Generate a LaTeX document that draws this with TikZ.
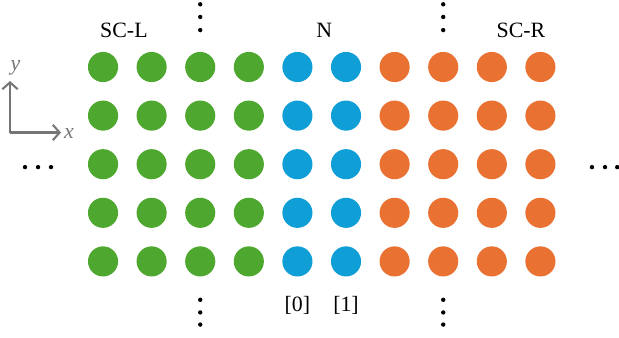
\documentclass[tikz,border=0pt]{standalone}
\usepackage{fontspec}
\setmainfont{Liberation Serif}
\usepackage{tikz}
\usetikzlibrary{arrows.meta}
\definecolor{scgreen}{HTML}{4EA72E}
\definecolor{nblue}{HTML}{0F9ED5}
\definecolor{scorange}{HTML}{E97132}
\definecolor{axisgray}{HTML}{767676}

\begin{document}
\begin{tikzpicture}[site/.style={circle, inner sep=0pt, minimum size=0.62cm},
  lbl/.style={anchor=base, inner sep=0pt},
  axis/.style={axisgray, line width=1.2pt, -{Straight Barb[length=4pt,width=9pt]}},
  font=\fontsize{12.8}{15}\selectfont]
\useasboundingbox (-2.12,-5.556) rectangle (10.617,1.379);
% sites of the chain
\foreach \a/\b/\c in {0/3/scgreen, 4/5/nblue, 6/9/scorange}
  \foreach \i in {\a,...,\b}
    \foreach \j in {0,...,4}
      \node[site, fill=\c] (s\i\j) at (\i,-\j) {};
\node[lbl] (scl) at (0.43,0.6) {SC-L};
\node[lbl] (n) at (4.55,0.6) {N};
\node[lbl] (scr) at (8.6,0.6) {SC-R};
\node[lbl] (i0) at (4,-5.03) {[0]};
\node[lbl] (i1) at (5,-5.03) {[1]};
% dots
\foreach \x in {2,7} {
  \foreach \y in {1.29,1.03,0.76,-4.79,-5.05,-5.3}
    \fill (\x,\y) circle (0.045);
}
\foreach \x in {-1.605,-1.337,-1.07,10.06,10.33,10.58}
  \fill (\x,-2.06) circle (0.045);
% axes
\coordinate (o) at (-1.914,-1.348);
\coordinate (ytip) at (-1.914,-0.288);
\coordinate (xtip) at (-0.864,-1.348);
\draw[axis] (o) -- (ytip);
\draw[axis] (o) -- (xtip);
\node[axisgray, inner sep=0pt] (ylab) at (-1.8,-0.02) {\textit{y}};
\node[axisgray, inner sep=0pt] (xlab) at (-0.7,-1.37) {\textit{x}};
\end{tikzpicture}
\end{document}
